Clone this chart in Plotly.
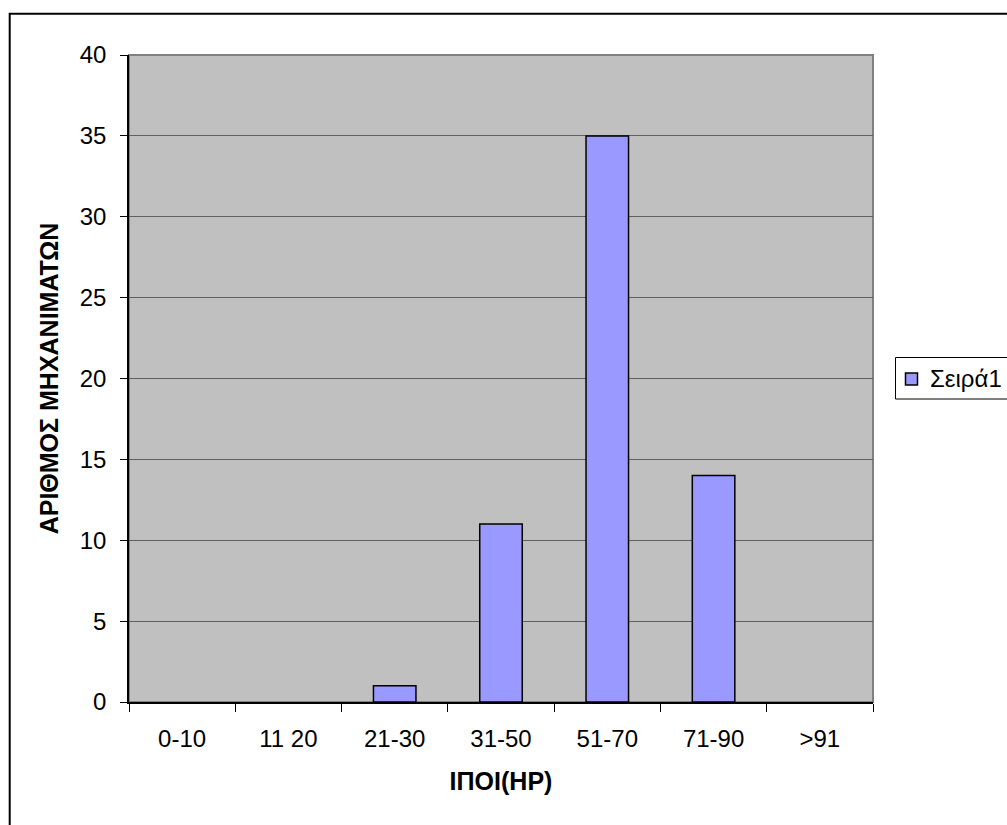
import plotly.graph_objects as go

# Horsepower classes and machine counts
categories = ["0-10", "11 20", "21-30", "31-50", "51-70", "71-90", ">91"]
counts = [0, 0, 1, 11, 35, 14, 0]
series_name = "Σειρά1"
x_title = "ΙΠΟΙ(ΗΡ)"
y_title = "ΑΡΙΘΜΟΣ ΜΗΧΑΝΙΜΑΤΩΝ"
y_ticks = [0, 5, 10, 15, 20, 25, 30, 35, 40]

W, H = 1007, 825
L, R, T, B = 129, 134, 55, 123
pw, ph = W - L - R, H - T - B

BAR_COLOR = "#9999FF"


def px_x(x):
    return (x - L) / pw


def px_y(y):
    return (H - B - y) / ph


font = "Arial, 'Liberation Sans', sans-serif"

fig = go.Figure(
    go.Bar(
        x=categories,
        y=counts,
        name=series_name,
        marker=dict(
            color=BAR_COLOR,
            line=dict(color="#000000", width=[1.5 if c > 0 else 0 for c in counts]),
        ),
        showlegend=False,
    )
)

shapes = [
    # plot area frame
    dict(type="rect", xref="paper", yref="paper", x0=0, y0=0, x1=1, y1=1,
         line=dict(color="#808080", width=2), layer="below"),
    # chart outer frame
    dict(type="rect", xref="paper", yref="paper",
         x0=px_x(9.7), y0=px_y(840), x1=px_x(1020), y1=px_y(13.7),
         line=dict(color="black", width=2)),
    # legend box (runs off the right edge of the chart area)
    dict(type="rect", xref="paper", yref="paper",
         x0=px_x(895.5), y0=px_y(399), x1=px_x(1030), y1=px_y(357.5),
         line=dict(color="black", width=1), fillcolor="white"),
    # legend swatch
    dict(type="rect", xref="paper", yref="paper",
         x0=px_x(905.5), y0=px_y(385), x1=px_x(917.5), y1=px_y(373),
         line=dict(color="black", width=1.5), fillcolor=BAR_COLOR),
]

fig.update_layout(
    width=W,
    height=H,
    margin=dict(l=L, r=R, t=T, b=B),
    paper_bgcolor="white",
    plot_bgcolor="#C0C0C0",
    bargap=0.6,
    font=dict(family=font, size=24, color="black"),
    showlegend=False,
    shapes=shapes,
    annotations=[
        dict(text=series_name, xref="paper", yref="paper",
             x=px_x(928), y=px_y(378), xanchor="left", yanchor="middle",
             showarrow=False, font=dict(family=font, size=24, color="black")),
    ],
)

fig.update_xaxes(
    type="category",
    tickson="boundaries",
    ticks="outside",
    ticklen=8,
    tickcolor="black",
    tickwidth=1,
    showline=True,
    linecolor="black",
    linewidth=1.5,
    showgrid=False,
    tickfont=dict(size=24),
    ticklabelstandoff=14,
    title=dict(text=f"<b>{x_title}</b>", font=dict(size=25), standoff=22),
)

fig.update_yaxes(
    range=[0, 40],
    tickvals=y_ticks,
    ticks="outside",
    ticklen=7,
    tickcolor="black",
    tickwidth=1,
    showline=True,
    linecolor="black",
    linewidth=1.5,
    showgrid=True,
    gridcolor="#606060",
    gridwidth=1,
    zeroline=False,
    tickfont=dict(size=24),
    ticklabelstandoff=9,
    title=dict(text=f"<b>{y_title}</b>", font=dict(size=25), standoff=14),
)

fig.write_html("out.html")
